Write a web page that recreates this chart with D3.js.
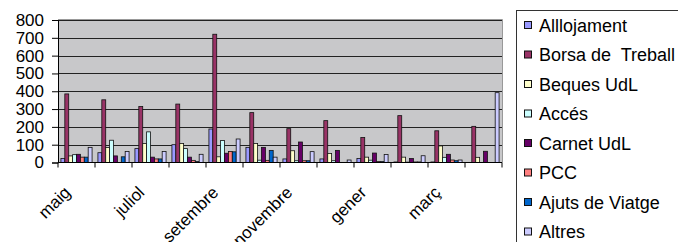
<!DOCTYPE html>
<html>
<head>
<meta charset="utf-8">
<script src="https://cdn.jsdelivr.net/npm/d3@7/dist/d3.min.js"></script>
<style>
  body { margin: 0; background: #fff; }
  svg text { font-family: "Liberation Sans", Arial, sans-serif; fill: #000; }
</style>
</head>
<body>
<svg id="chart" width="678" height="242"></svg>
<script>
// ── data ──────────────────────────────────────────────
const months = ["maig", "juny", "juliol", "agost", "setembre", "octubre",
                "novembre", "desembre", "gener", "febrer", "març", "abril"];
const seriesNames = ["Alllojament", "Borsa de  Treball", "Beques UdL", "Accés",
                     "Carnet UdL", "PCC", "Ajuts de Viatge", "Altres"];
const allotjament = [22, 55, 78, 100, 188, 85, 20, 20, 22, 3, 3, 0];
const borsa       = [385, 352, 314, 328, 720, 280, 190, 235, 140, 263, 178, 203];
const beques      = [37, 84, 107, 107, 32, 107, 66, 51, 30, 30, 93, 29];
const acces       = [44, 125, 172, 78, 123, 13, 10, 10, 13, 2, 29, 0];
const carnet      = [46, 37, 30, 30, 52, 85, 115, 68, 53, 22, 46, 63];
const pcc         = [30, 0, 20, 12, 62, 12, 10, 0, 5, 3, 14, 0];
const ajuts       = [30, 32, 20, 5, 60, 68, 10, 0, 5, 3, 10, 0];
const altres      = [85, 62, 62, 46, 132, 30, 61, 14, 45, 38, 14, 392];
const yTicks      = [0, 100, 200, 300, 400, 500, 600, 700, 800];
const shownMonths = ["maig", "juliol", "setembre", "novembre", "gener", "març"];

const seriesValues = [allotjament, borsa, beques, acces, carnet, pcc, ajuts, altres];
const colors = ["#9999FF", "#993366", "#FFFFCC", "#CCFFFF",
                "#660066", "#FF8080", "#0066CC", "#CCCCFF"];

// ── layout ────────────────────────────────────────────
const PLOT_L = 58, PLOT_R = 502, PLOT_T = 20, PLOT_B = 162.5;

const svg = d3.select("#chart");

const x0 = d3.scaleBand().domain(months).range([PLOT_L, PLOT_R]).padding(0);
const x1 = d3.scaleBand().domain(d3.range(seriesNames.length))
    .range([0, x0.bandwidth()]).paddingInner(0).paddingOuter(0.75);
const y = d3.scaleLinear().domain([0, 800]).range([PLOT_B, PLOT_T]);

// plot area
svg.append("rect")
    .attr("x", PLOT_L).attr("y", PLOT_T)
    .attr("width", PLOT_R - PLOT_L).attr("height", PLOT_B - PLOT_T)
    .attr("fill", "#C8C8CA");

// gridlines
svg.append("g").selectAll("line")
    .data(yTicks.slice(1))
    .join("line")
    .attr("x1", PLOT_L).attr("x2", PLOT_R)
    .attr("y1", d => Math.round(y(d)) + 0.5).attr("y2", d => Math.round(y(d)) + 0.5)
    .attr("stroke", "#222").attr("stroke-width", 1);

// plot border (top / right)
svg.append("path")
    .attr("d", `M${PLOT_L},${PLOT_T - 0.5}H${PLOT_R + 0.5}V${PLOT_B}`)
    .attr("fill", "none").attr("stroke", "#999").attr("stroke-width", 1);

// bars
const groups = svg.append("g").selectAll("g")
    .data(months)
    .join("g")
    .attr("transform", d => `translate(${x0(d)},0)`);

groups.selectAll("rect")
    .data((m, i) => seriesValues.map((vals, s) => ({ s, v: vals[i] })))
    .join("rect")
    .filter(d => d.v > 0)
    .attr("x", d => x1(d.s))
    .attr("y", d => y(d.v))
    .attr("width", x1.bandwidth())
    .attr("height", d => PLOT_B - y(d.v))
    .attr("fill", d => colors[d.s])
    .attr("stroke", "#111")
    .attr("stroke-width", 0.8);

// y axis
const yAxis = d3.axisLeft(y).tickValues(yTicks).tickSize(6).tickPadding(8);
const gy = svg.append("g")
    .attr("transform", `translate(${PLOT_L},0)`)
    .call(yAxis);
gy.select(".domain").attr("stroke", "#000");
gy.selectAll(".tick line").attr("stroke", "#000");
gy.selectAll(".tick text").style("font-size", "17px");

// x axis: ticks at category boundaries
const gx = svg.append("g");
gx.append("line")
    .attr("x1", PLOT_L).attr("x2", PLOT_R)
    .attr("y1", PLOT_B).attr("y2", PLOT_B)
    .attr("stroke", "#000");
gx.selectAll("line.tick")
    .data(months.concat(["end"]))
    .join("line")
    .attr("class", "tick")
    .attr("x1", d => d === "end" ? PLOT_R : x0(d))
    .attr("x2", d => d === "end" ? PLOT_R : x0(d))
    .attr("y1", PLOT_B).attr("y2", PLOT_B + 5)
    .attr("stroke", "#000");

gx.selectAll("text")
    .data(shownMonths)
    .join("text")
    .attr("transform", d =>
        `translate(${x0(d) + x0.bandwidth() / 2 - 5},${PLOT_B + 31}) rotate(-45)`)
    .attr("text-anchor", "end")
    .style("font-size", "17px")
    .text(d => d);

// legend
const legend = svg.append("g");
legend.append("rect")
    .attr("x", 516.5).attr("y", 10.5)
    .attr("width", 200).attr("height", 260)
    .attr("fill", "#fff").attr("stroke", "#333");

const items = legend.selectAll("g.item")
    .data(seriesNames)
    .join("g")
    .attr("class", "item")
    .attr("transform", (d, i) => `translate(0,${25 + i * 29.5})`);

items.append("rect")
    .attr("x", 524.5).attr("y", -3.5)
    .attr("width", 7).attr("height", 7)
    .attr("fill", (d, i) => colors[i])
    .attr("stroke", "#111");

items.append("text")
    .attr("x", 539)
    .attr("y", 6.5)
    .style("font-size", "18px")
    .style("white-space", "pre")
    .text(d => d);
</script>
</body>
</html>
